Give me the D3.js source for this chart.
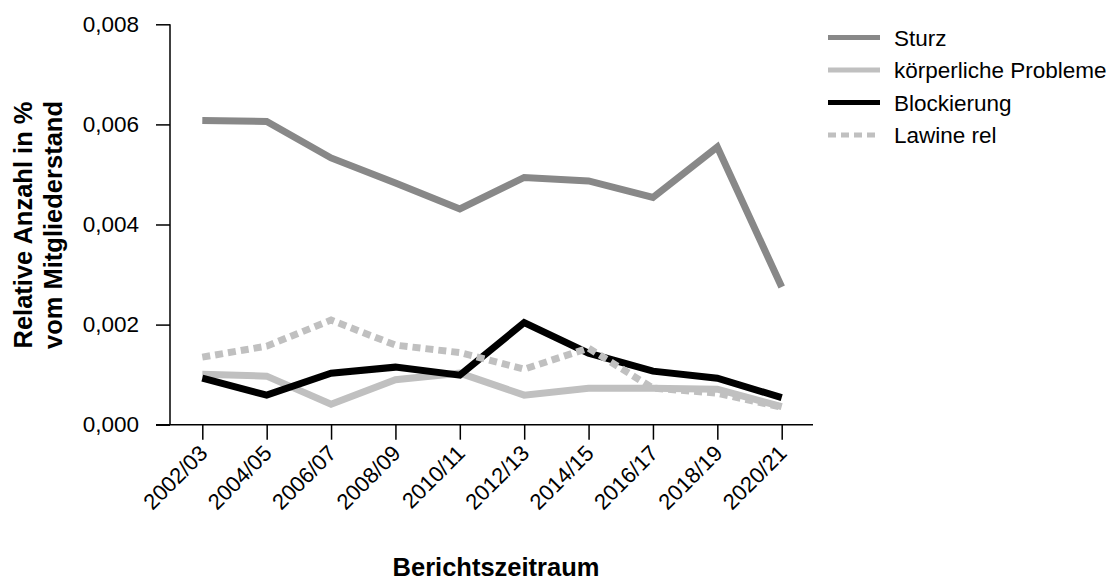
<!DOCTYPE html>
<html>
<head>
<meta charset="utf-8">
<script src="https://cdn.jsdelivr.net/npm/d3@7"></script>
<style>
  html, body { margin: 0; padding: 0; background: #fff; }
  svg { display: block; font-family: "Liberation Sans", Arial, Helvetica, sans-serif; }
</style>
</head>
<body>
<svg id="chart" width="1117" height="582"></svg>
<script>
const categories = ["2002/03","2004/05","2006/07","2008/09","2010/11","2012/13","2014/15","2016/17","2018/19","2020/21"];
const sturz       = [0.00608,0.00606,0.00533,0.00483,0.00431,0.00494,0.00487,0.00454,0.00555,0.00275];
const koerperlich = [0.00101,0.00097,0.00041,0.00090,0.00103,0.00059,0.00073,0.00073,0.00071,0.00036];
const blockierung = [0.00093,0.00059,0.00103,0.00115,0.00099,0.00204,0.00143,0.00107,0.00093,0.00054];
const lawine      = [0.00135,0.00157,0.00209,0.00159,0.00144,0.00111,0.00153,0.00073,0.00063,0.00035];
const yTicks = [0, 0.002, 0.004, 0.006, 0.008];
const seriesNames = ["Sturz","körperliche Probleme","Blockierung","Lawine rel"];
const xTitle = "Berichtszeitraum";
const yTitle = ["Relative Anzahl in %","vom Mitgliederstand"];

const series = [
  {name: seriesNames[0], values: sturz,       color: "#888888", dash: null},
  {name: seriesNames[1], values: koerperlich, color: "#c0c0c0", dash: null},
  {name: seriesNames[2], values: blockierung, color: "#000000", dash: null},
  {name: seriesNames[3], values: lawine,      color: "#c0c0c0", dash: "8,5"}
];

const svg = d3.select("#chart");

const x = d3.scalePoint().domain(categories).range([202.3, 781.7]);
const y = d3.scaleLinear().domain([0, 0.008]).range([424.7, 24.3]);
const fmt = v => d3.format(".3f")(v).replace(".", ",");

// Y axis
const yAxisG = svg.append("g").attr("transform", "translate(170,0)")
  .call(d3.axisLeft(y).tickValues(yTicks).tickFormat(fmt).tickSize(14).tickPadding(17));
yAxisG.select(".domain").attr("d", `M0,${y(0.008)}V${y(0)}`).attr("stroke", "#000").attr("stroke-width", 1.5);
yAxisG.selectAll(".tick line").attr("stroke", "#000").attr("stroke-width", 1.5);
yAxisG.selectAll(".tick text").attr("font-size", 22.5).attr("fill", "#000")
  .attr("font-family", "Liberation Sans, Arial, sans-serif");

// X axis
const xAxisG = svg.append("g").attr("transform", `translate(0,${y(0)})`)
  .call(d3.axisBottom(x).tickSize(15).tickPadding(0));
xAxisG.select(".domain").attr("d", "M156,0H813").attr("stroke", "#000").attr("stroke-width", 1.5);
xAxisG.selectAll(".tick line").attr("stroke", "#000").attr("stroke-width", 1.5);
xAxisG.selectAll(".tick text")
  .attr("font-size", 22).attr("fill", "#000")
  .attr("font-family", "Liberation Sans, Arial, sans-serif")
  .attr("text-anchor", "end")
  .attr("dy", null)
  .attr("y", 0)
  .attr("transform", "translate(6,30) rotate(-45)");

// Lines
const line = d3.line().x((d, i) => x(categories[i])).y(d => y(d));
svg.append("g").selectAll("path").data(series).join("path")
  .attr("d", d => line(d.values))
  .attr("fill", "none")
  .attr("stroke", d => d.color)
  .attr("stroke-width", 7)
  .attr("stroke-linejoin", "miter")
  .attr("stroke-linecap", "butt")
  .attr("stroke-dasharray", d => d.dash);

// Legend
const leg = svg.append("g");
const legItems = leg.selectAll("g").data(series).join("g")
  .attr("transform", (d, i) => `translate(828,${37.5 + 32.5 * i})`);
legItems.append("line").attr("x1", 0).attr("x2", 52).attr("y1", 0).attr("y2", 0)
  .attr("stroke", d => d.color).attr("stroke-width", 5).attr("stroke-dasharray", d => d.dash);
legItems.append("text").attr("x", 66).attr("y", 0).attr("dy", "0.36em")
  .attr("font-size", 22.5).attr("fill", "#000").text(d => d.name);

// Axis titles
svg.append("text").attr("x", 496).attr("y", 576).attr("text-anchor", "middle")
  .attr("font-size", 25.5).attr("font-weight", "bold").text(xTitle);
const yt = svg.append("text").attr("transform", "translate(32,225) rotate(-90)")
  .attr("text-anchor", "middle").attr("font-size", 25.5).attr("font-weight", "bold");
yt.selectAll("tspan").data(yTitle).join("tspan")
  .attr("x", 0).attr("y", (d, i) => i * 30).text(d => d);
</script>
</body>
</html>
